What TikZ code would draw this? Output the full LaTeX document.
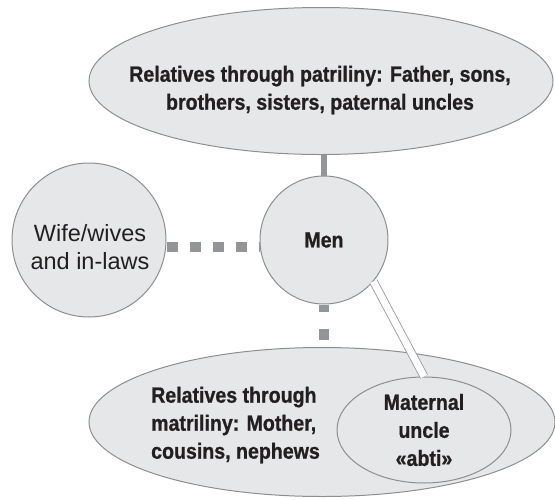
\documentclass[tikz,border=0pt]{standalone}
\usepackage{fontspec}
\setmainfont{Liberation Sans}
\newfontfamily\narrowfont{Liberation Sans}[FakeStretch=0.89, BoldFeatures={FakeBold=0.8}]
\usetikzlibrary{shapes.geometric}
\definecolor{bubblefill}{HTML}{E6E7E8}
\definecolor{rimgray}{HTML}{8E8E8E}
\definecolor{linkgray}{HTML}{939598}
\definecolor{inkgray}{HTML}{231F20}
\tikzset{
  bubble/.style={draw=rimgray, fill=bubblefill, line width=1pt, inner sep=0pt},
  ovalnode/.style={bubble, ellipse},
  ringnode/.style={bubble, circle},
  boldtext/.style={font=\narrowfont\bfseries\fontsize{22}{28}\selectfont, text=inkgray, align=center, inner sep=0pt},
  plaintext/.style={font=\fontsize{23.5}{28}\selectfont, text=inkgray, align=center, inner sep=0pt},
  solidlink/.style={draw=linkgray, line width=6pt},
  dotlink/.style={draw=linkgray, line width=10pt, dash pattern=on 11pt off 12pt},
  twinlink/.style={draw=linkgray, line width=0.8pt, double=white, double distance=7pt}
}
\begin{document}
\begin{tikzpicture}[x=1pt,y=-1pt]
  \useasboundingbox (0,0) rectangle (555,499);
  % the circles of kin
  \node[ovalnode, minimum width=464, minimum height=147] (patri) at (321,81) {};
  \node[boldtext] (patritext) at (320,90)
    {Relatives through patriliny: Father, sons,\\ brothers, sisters, paternal uncles};
  \node[ringnode, minimum size=128, boldtext] (men) at (324,240) {Men};
  \node[ringnode, minimum size=154] (wife) at (89,240) {};
  \node[plaintext] (wifetext) at (90,247) {Wife/wives\\ and in-laws};
  \node[ovalnode, minimum width=466, minimum height=149] (matri) at (322,422) {};
  \node[boldtext, align=left, anchor=west] (matritext) at (151,425)
    {Relatives through\\ matriliny: Mother,\\ cousins, nephews};
  \node[ovalnode, minimum width=174, minimum height=106, boldtext] (uncle) at (424,430)
    {Maternal\\ uncle\\ «abti»};
  % ties
  \draw[solidlink] (men.north) -- (men.north |- patri.south);
  \draw[dotlink] ([yshift=-7pt]wife.east) -- ([yshift=-7pt]wife.east -| men.west);
  \draw[dotlink, dash pattern=on 11pt off 17pt, dash phase=4pt] (men.south) -- (men.south |- matri.north);
  \draw[twinlink] (men.-40) -- (uncle.north);
\end{tikzpicture}
\end{document}
